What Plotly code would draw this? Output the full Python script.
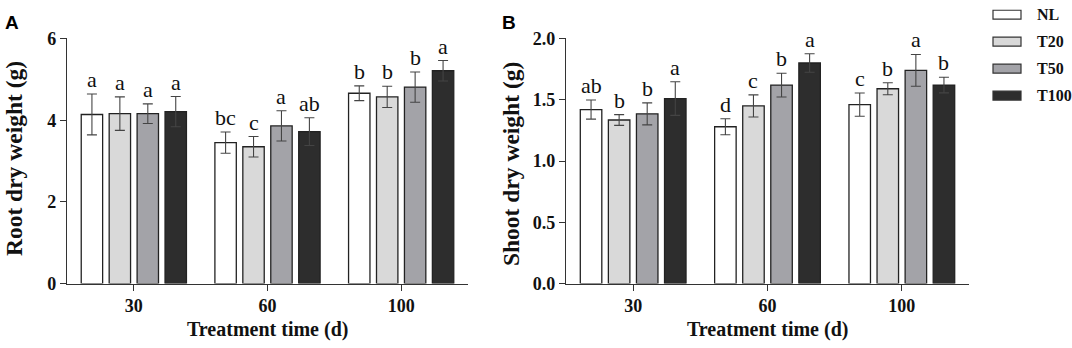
import plotly.graph_objects as go

# ---------------- data ----------------
times = ["30", "60", "100"]
series = ["NL", "T20", "T50", "T100"]
colors = ["#ffffff", "#d9d9d9", "#a3a3a8", "#2d2d2d"]

root_mean = {
    "NL":   [4.14, 3.45, 4.66],
    "T20":  [4.16, 3.35, 4.57],
    "T50":  [4.16, 3.86, 4.81],
    "T100": [4.21, 3.72, 5.21],
}
root_err = {
    "NL":   [0.50, 0.26, 0.18],
    "T20":  [0.41, 0.25, 0.26],
    "T50":  [0.24, 0.37, 0.37],
    "T100": [0.37, 0.34, 0.25],
}
root_letters = {
    "NL":   ["a", "bc", "b"],
    "T20":  ["a", "c", "b"],
    "T50":  ["a", "a", "b"],
    "T100": ["a", "ab", "a"],
}

shoot_mean = {
    "NL":   [1.42, 1.28, 1.46],
    "T20":  [1.335, 1.45, 1.59],
    "T50":  [1.385, 1.62, 1.74],
    "T100": [1.51, 1.80, 1.62],
}
shoot_err = {
    "NL":   [0.078, 0.065, 0.095],
    "T20":  [0.044, 0.09, 0.049],
    "T50":  [0.09, 0.097, 0.13],
    "T100": [0.137, 0.076, 0.064],
}
shoot_letters = {
    "NL":   ["ab", "d", "c"],
    "T20":  ["b", "c", "b"],
    "T50":  ["b", "b", "a"],
    "T100": ["a", "a", "b"],
}

root_ticks = [0, 2, 4, 6]
shoot_ticks = [0.0, 0.5, 1.0, 1.5, 2.0]

# ---------------- layout constants ----------------
W, H = 1072, 348
BARGAP = 0.164
BARGROUPGAP = 0.234
SERIF = "Liberation Serif, Times New Roman, serif"
SANS = "Liberation Sans, Arial, sans-serif"


def py(Y):
    """paper fraction for a target pixel row (from top) in the final picture"""
    yl = (Y - 9.4) / 0.946
    return 1 - yl / H


xA = (67 / W, 468 / W)
xB = (566 / W, 969 / W)
ydom = (py(284), py(38))

fig = go.Figure()
xs = list(range(len(times)))
n = len(series)
slot = (1 - BARGAP) / n

panels = [
    ("x", "y", root_mean, root_err, root_letters),
    ("x2", "y2", shoot_mean, shoot_err, shoot_letters),
]

for xa, ya, means, errs, letters in panels:
    for i, s in enumerate(series):
        fig.add_trace(go.Bar(
            x=xs, y=means[s], name=s, xaxis=xa, yaxis=ya,
            marker=dict(color=colors[i], line=dict(color="#222222", width=1.3)),
            error_y=dict(type="data", array=errs[s], visible=True,
                         color="#444444", thickness=1.1, width=5),
            showlegend=False,
        ))
        for j in xs:
            xpos = j + (i - (n - 1) / 2) * slot
            fig.add_annotation(
                x=xpos, y=means[s][j] + errs[s][j], xref=xa, yref=ya,
                text=letters[s][j], showarrow=False, yanchor="bottom",
                yshift=0,
                font=dict(family=SERIF, size=22, color="#111111"),
            )

axis_common = dict(
    showgrid=False, zeroline=False, showline=True, linecolor="#333333",
    linewidth=1.3, ticks="outside", ticklen=6, tickwidth=1.3,
    tickcolor="#333333",
    tickfont=dict(family=SERIF, size=18, color="#111111"),
)

fig.update_layout(
    width=W, height=H,
    margin=dict(l=0, r=0, t=0, b=0),
    paper_bgcolor="white", plot_bgcolor="white",
    barmode="group", bargap=BARGAP, bargroupgap=BARGROUPGAP,
    showlegend=False,
    xaxis=dict(domain=xA, range=[-0.5, 2.5], tickvals=xs,
               ticktext=[f"<b>{t}</b>" for t in times],
               anchor="y", **axis_common),
    yaxis=dict(domain=ydom, range=[0, 6], tickvals=root_ticks,
               ticktext=[f"<b>{t}</b>" for t in root_ticks], anchor="x", **axis_common),
    xaxis2=dict(domain=xB, range=[-0.5, 2.5], tickvals=xs,
                ticktext=[f"<b>{t}</b>" for t in times],
                anchor="y2", **axis_common),
    yaxis2=dict(domain=ydom, range=[0, 2], tickvals=shoot_ticks,
                ticktext=[f"<b>{t:.1f}</b>" for t in shoot_ticks], anchor="x2", **axis_common),
)

# axis titles
title_font = dict(family=SERIF, size=23.5, color="#111111")
fig.add_annotation(text="<b>Root dry weight (g)</b>", xref="paper", yref="paper",
                   x=14 / W, y=py(159), textangle=-90, showarrow=False,
                   font=title_font, xanchor="center", yanchor="middle")
fig.add_annotation(text="<b>Shoot dry weight (g)</b>", xref="paper", yref="paper",
                   x=511 / W, y=py(164), textangle=-90, showarrow=False,
                   font=title_font, xanchor="center", yanchor="middle")
xt_font = dict(family=SERIF, size=20, color="#111111")
for xc in (267, 767):
    fig.add_annotation(text="<b>Treatment time (d)</b>", xref="paper", yref="paper",
                       x=xc / W, y=1 - 339.5 / H, showarrow=False, font=xt_font,
                       xanchor="center", yanchor="middle")

# panel letters
for lab, xl in (("A", 3), ("B", 500)):
    fig.add_annotation(text=f"<b>{lab}</b>", xref="paper", yref="paper", x=xl / W, y=1.0,
                       showarrow=False, xanchor="left", yanchor="top",
                       font=dict(family=SANS, size=19, color="#000000"))

# custom legend (wide swatches as in the original)
leg_x0, leg_x1, leg_tx = 993, 1021, 1035
leg_y0, leg_dy, sw_h = 5.0, 28.6, 9.5   # layout pixels from top
for i, s in enumerate(series):
    yc = leg_y0 + i * leg_dy
    fig.add_shape(type="rect", xref="paper", yref="paper",
                  x0=leg_x0 / W, x1=leg_x1 / W,
                  y0=1 - (yc + sw_h / 2) / H, y1=1 - (yc - sw_h / 2) / H,
                  fillcolor=colors[i], line=dict(color="#333333", width=1.2))
    fig.add_annotation(text=f"<b>{s}</b>", xref="paper", yref="paper",
                       x=leg_tx / W, y=1 - yc / H, showarrow=False,
                       xanchor="left", yanchor="middle",
                       font=dict(family=SERIF, size=16, color="#111111"))

fig.write_html(
    "out.html",
    config={"displayModeBar": False},
    post_script="document.body.style.margin='0';document.body.style.overflow='hidden';",
)
